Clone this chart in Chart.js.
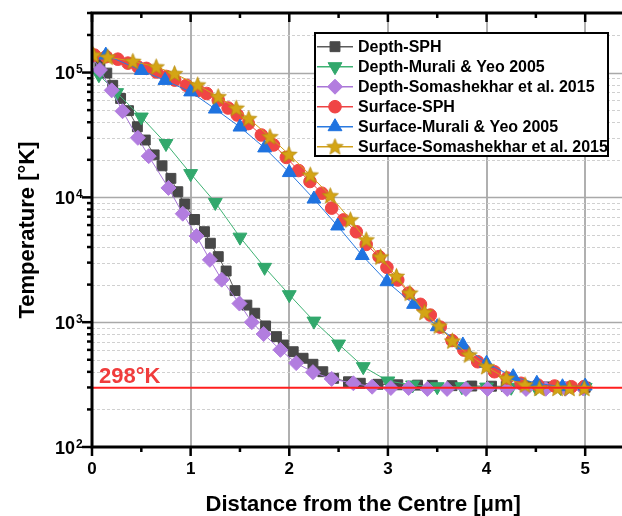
<!DOCTYPE html>
<html>
<head>
<meta charset="utf-8">
<script src="https://cdn.jsdelivr.net/npm/chart.js@4.4.1/dist/chart.umd.min.js"></script>
<style>
  html, body { margin: 0; padding: 0; background: #fff; overflow: hidden; }
  #wrap { width: 622px; height: 516px; overflow: hidden; }
</style>
</head>
<body>
<div id="wrap"><canvas id="tempChart" width="644" height="516"></canvas></div>
<script>
// values (x in um, T in K)
const depthSphX = [0, 0.08, 0.15, 0.21, 0.29, 0.37, 0.46, 0.54, 0.63, 0.71, 0.80, 0.87, 0.94, 1.04, 1.14, 1.20, 1.28, 1.36, 1.45, 1.57, 1.65, 1.76, 1.87, 1.94, 2.04, 2.14, 2.24, 2.34, 2.45, 2.60, 2.72, 2.90, 3.10, 3.30, 3.45, 3.65, 3.85, 4.05, 4.20, 4.40, 4.60, 4.80, 5.00]
const depthSphT = [135000, 117000, 99000, 79000, 62000, 49500, 36800, 28800, 21900, 17900, 14200, 11100, 8860, 6650, 5310, 4290, 3350, 2570, 1790, 1370, 1180, 933, 766, 656, 580, 514, 460, 401, 355, 333, 324, 318, 315, 313, 312, 310, 308, 307, 306, 305, 303, 302, 301]

const depthMuraliX = [0.07, 0.25, 0.5, 0.75, 1.0, 1.25, 1.5, 1.75, 2.0, 2.25, 2.5, 2.75, 3.0, 3.25, 3.5, 3.75, 4.0, 4.25, 4.5, 4.75, 5.0]
const depthMuraliT = [96000, 69000, 44000, 27000, 15500, 9100, 4800, 2750, 1660, 1020, 668, 440, 338, 314, 304, 304, 302, 301, 300, 300, 300]

const depthSomaX = [0, 0.08, 0.20, 0.31, 0.465, 0.575, 0.775, 0.92, 1.06, 1.195, 1.315, 1.495, 1.62, 1.74, 1.91, 2.07, 2.24, 2.43, 2.65, 2.84, 3.03, 3.21, 3.40, 3.60, 3.79, 4.01, 4.21, 4.40, 4.60, 4.80, 4.98]
const depthSomaT = [135000, 105000, 72000, 49000, 30000, 21400, 11900, 7400, 4900, 3160, 2190, 1410, 1000, 804, 600, 470, 398, 351, 324, 304, 297, 297, 292, 292, 292, 292, 292, 292, 293, 293, 294]

const surfSphX = [0.025, 0.144, 0.262, 0.364, 0.466, 0.551, 0.653, 0.755, 0.839, 0.958, 1.076, 1.162, 1.28, 1.38, 1.473, 1.585, 1.717, 1.84, 1.97, 2.094, 2.21, 2.33, 2.43, 2.55, 2.68, 2.78, 2.91, 2.99, 3.10, 3.21, 3.33, 3.43, 3.53, 3.65, 3.77, 3.91, 4.08, 4.21, 4.35, 4.52, 4.69, 4.86, 4.99]
const surfSphT = [138000, 134000, 128000, 119000, 111000, 108000, 101000, 93000, 87000, 79000, 72000, 68000, 60000, 52000, 45700, 39000, 31600, 26300, 20900, 16400, 13400, 10800, 8200, 6600, 5300, 4200, 3350, 2750, 2180, 1710, 1390, 1140, 913, 713, 598, 482, 401, 357, 324, 314, 308, 304, 305]

const surfMuraliX = [0.14, 0.50, 0.74, 1.0, 1.25, 1.5, 1.75, 2.0, 2.25, 2.49, 2.74, 2.99, 3.26, 3.5, 3.76, 4.0, 4.27, 4.51, 4.77, 5.0]
const surfMuraliT = [138000, 104000, 86500, 70000, 51000, 36600, 24900, 15800, 9700, 5900, 3420, 2110, 1390, 920, 657, 469, 366, 324, 304, 308]

const surfSomaX = [0.015, 0.16, 0.414, 0.651, 0.837, 1.071, 1.279, 1.462, 1.589, 1.804, 1.996, 2.213, 2.416, 2.62, 2.78, 2.925, 3.087, 3.223, 3.372, 3.518, 3.654, 3.823, 3.998, 4.20, 4.39, 4.535, 4.72, 4.84, 4.99]
const surfSomaT = [138000, 133000, 123000, 111000, 98000, 79500, 64000, 51800, 42700, 30600, 22100, 15100, 10300, 6600, 4560, 3330, 2330, 1710, 1200, 933, 706, 546, 440, 355, 314, 295, 295, 295, 295]

const ambientX = [0, 5.5]
const ambientT = [298, 298]

const yDecades = [100, 1000, 10000, 100000]
const yTickLabels = ['2', '3', '4', '5']

const FONT = "'Liberation Sans', Arial, Helvetica, sans-serif"

function pts (xs, ys) {
  return xs.map((x, i) => ({ x: x, y: ys[i] }))
}

function starImage (color, r) {
  const s = Math.ceil(r * 2 + 2)
  const c = document.createElement('canvas')
  c.width = s
  c.height = s
  const g = c.getContext('2d')
  g.translate(s / 2, s / 2 + 0.5)
  g.beginPath()
  for (let i = 0; i < 10; i++) {
    const rr = i % 2 ? r * 0.44 : r
    const a = -Math.PI / 2 + i * Math.PI / 5
    g.lineTo(rr * Math.cos(a), rr * Math.sin(a))
  }
  g.closePath()
  g.fillStyle = color
  g.fill()
  g.strokeStyle = '#b58a0c'
  g.lineWidth = 0.8
  g.stroke()
  return c
}

const STAR = starImage('#d4a515', 8.5)

const series = [
  { label: 'Depth-SPH', x: depthSphX, t: depthSphT, color: '#484848', line: '#5c5c5c', style: 'rect', r: 7, rot: 0 },
  { label: 'Depth-Murali & Yeo 2005', x: depthMuraliX, t: depthMuraliT, color: '#32a86c', line: '#3fb273', style: 'triangle', r: 8, rot: 180 },
  { label: 'Depth-Somashekhar et al. 2015', x: depthSomaX, t: depthSomaT, color: '#b27ddf', line: '#a877d6', style: 'rectRot', r: 7.5, rot: 0 },
  { label: 'Surface-SPH', x: surfSphX, t: surfSphT, color: '#f04545', line: '#ee4444', style: 'circle', r: 6.3, rot: 0 },
  { label: 'Surface-Murali & Yeo 2005', x: surfMuraliX, t: surfMuraliT, color: '#1f73e0', line: '#2a7ae0', style: 'triangle', r: 8, rot: 0 },
  { label: 'Surface-Somashekhar et al. 2015', x: surfSomaX, t: surfSomaT, color: '#d4a515', line: '#d1a01a', style: STAR, r: 8.5, rot: 0 }
]

const datasets = series.map((s, i) => ({
  label: s.label,
  data: pts(s.x, s.t),
  borderColor: s.line,
  borderWidth: 1,
  backgroundColor: s.color,
  pointStyle: s.style,
  pointRadius: s.r,
  pointRotation: s.rot,
  pointBackgroundColor: s.color,
  pointBorderColor: s.color,
  pointBorderWidth: 1,
  tension: 0,
  order: series.length - i
}))

datasets.push({
  label: '298K',
  data: pts(ambientX, ambientT),
  borderColor: '#ff1f1f',
  borderWidth: 2,
  pointRadius: 0,
  order: 0
})

const decor = {
  id: 'decor',
  beforeDatasetsDraw (chart) {
    const { ctx, chartArea: a, scales: { y } } = chart
    ctx.save()
    yDecades.forEach(d => {
      for (let m = 1; m <= 9; m++) {
        const v = m * d
        if (v <= y.min || v > y.max) continue
        const py = Math.round(y.getPixelForValue(v)) + 0.5
        ctx.beginPath()
        if (m === 1) {
          ctx.setLineDash([])
          ctx.strokeStyle = '#a9a9a9'
          ctx.lineWidth = 1.5
        } else {
          ctx.setLineDash([3, 2])
          ctx.strokeStyle = '#d0d0d0'
          ctx.lineWidth = 1
        }
        ctx.moveTo(a.left, py)
        ctx.lineTo(a.right, py)
        ctx.stroke()
      }
    })
    ctx.restore()
  },
  afterDatasetsDraw (chart) {
    const { ctx, scales: { y } } = chart
    const py = y.getPixelForValue(298)
    ctx.save()
    ctx.fillStyle = '#f03c3c'
    ctx.font = 'bold 22px ' + FONT
    ctx.textBaseline = 'alphabetic'
    ctx.fillText('298°K', 99, py - 5)
    ctx.restore()
  },
  afterDraw (chart) {
    const { ctx, chartArea: a, scales: { x, y } } = chart
    ctx.save()
    ctx.strokeStyle = '#000'
    ctx.fillStyle = '#000'

    // ticks on the left (outward), bottom (outward) and top (inward)
    ctx.lineWidth = 2.5
    yDecades.forEach(d => {
      for (let m = 1; m <= 9; m++) {
        const v = m * d
        if (v < y.min || v > y.max) continue
        const py = y.getPixelForValue(v)
        ctx.beginPath()
        ctx.moveTo(a.left, py)
        ctx.lineTo(a.left - (m === 1 ? 10 : 5), py)
        ctx.stroke()
      }
    })
    for (let k = 0; k <= 11; k++) {
      const v = k * 0.5
      const px = x.getPixelForValue(v)
      const len = k % 2 === 0 ? 9 : 5
      ctx.beginPath()
      ctx.moveTo(px, a.bottom)
      ctx.lineTo(px, a.bottom + len)
      ctx.moveTo(px, a.top)
      ctx.lineTo(px, a.top + len)
      ctx.stroke()
    }

    // frame
    ctx.lineWidth = 3
    ctx.strokeRect(a.left, a.top, a.right - a.left, a.bottom - a.top)

    // y tick labels 10^n
    yDecades.forEach((d, i) => {
      const py = y.getPixelForValue(d)
      ctx.textBaseline = 'alphabetic'
      ctx.textAlign = 'right'
      ctx.font = 'bold 18px ' + FONT
      ctx.fillText('10', 75, py + 6.5)
      ctx.textAlign = 'left'
      ctx.font = 'bold 12px ' + FONT
      ctx.fillText(yTickLabels[i], 76, py + 0.5)
    })

    // legend
    const lx = 315
    const ly = 33
    const lw = 293
    const lh = 123
    ctx.fillStyle = '#fff'
    ctx.fillRect(lx, ly, lw, lh)
    ctx.lineWidth = 2
    ctx.strokeStyle = '#000'
    ctx.strokeRect(lx, ly, lw, lh)
    series.forEach((s, i) => {
      const cy = ly + 13.7 + i * 20
      ctx.strokeStyle = s.line
      ctx.lineWidth = 1.5
      ctx.beginPath()
      ctx.moveTo(lx + 2, cy)
      ctx.lineTo(lx + 38, cy)
      ctx.stroke()
      ctx.fillStyle = s.color
      ctx.strokeStyle = s.color
      ctx.lineWidth = 1
      Chart.helpers.drawPoint(ctx, { pointStyle: s.style, radius: s.r, rotation: s.rot, borderWidth: 1 }, lx + 20, cy)
      ctx.fillStyle = '#000'
      ctx.textAlign = 'left'
      ctx.textBaseline = 'middle'
      ctx.font = 'bold 16px ' + FONT
      ctx.fillText(s.label, lx + 43, cy + 1)
    })
    ctx.restore()
  }
}

const CHART = document.getElementById('tempChart')
const tempChart = new Chart(CHART, {
  type: 'line',
  data: { datasets: datasets },
  plugins: [decor],
  options: {
    responsive: false,
    animation: false,
    layout: { padding: { top: 13, right: 0, left: 0, bottom: 0 } },
    plugins: {
      legend: { display: false },
      tooltip: { enabled: false }
    },
    scales: {
      x: {
        type: 'linear',
        min: 0,
        max: 5.5,
        afterFit: (s) => { s.height = 69 },
        ticks: {
          stepSize: 1,
          includeBounds: false,
          padding: 12,
          maxRotation: 0,
          color: '#000',
          font: { family: FONT, size: 17, weight: 'bold' },
          callback: (v) => Number.isInteger(v) ? String(v) : ''
        },
        grid: {
          drawTicks: false,
          lineWidth: 2,
          color: (c) => (c.tick && c.tick.value > 0) ? '#b0b0b0' : 'rgba(0,0,0,0)'
        },
        border: { display: false },
        title: {
          display: true,
          text: 'Distance from the Centre [μm]',
          color: '#000',
          font: { family: FONT, size: 22, weight: 'bold', lineHeight: 1 },
          padding: { top: 0, bottom: 0 }
        }
      },
      y: {
        type: 'logarithmic',
        min: 100,
        max: 300000,
        afterFit: (s) => { s.width = 92 },
        ticks: { display: false },
        grid: { display: false },
        border: { display: false },
        title: {
          display: true,
          text: 'Temperature [°K]',
          color: '#000',
          font: { family: FONT, size: 22, weight: 'bold' },
          padding: { top: 15, bottom: 0 }
        }
      }
    }
  }
})
</script>
</body>
</html>
